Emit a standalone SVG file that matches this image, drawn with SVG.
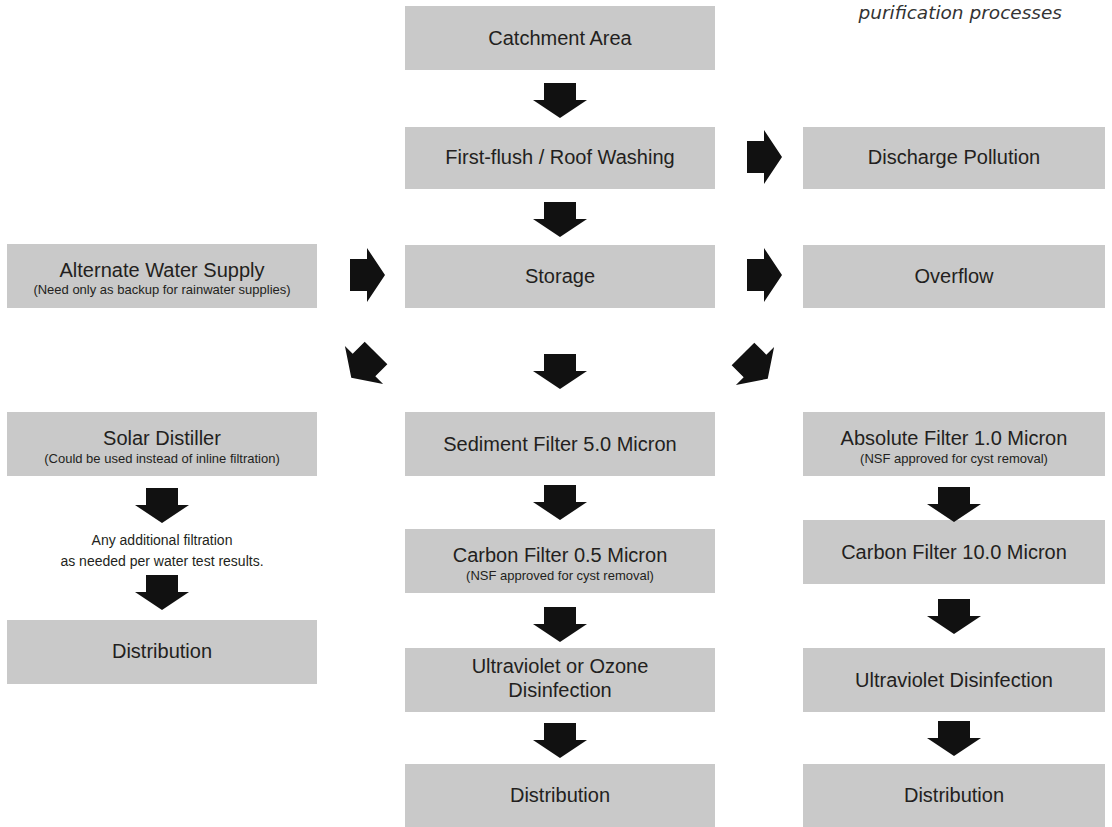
<svg xmlns="http://www.w3.org/2000/svg" xmlns:xlink="http://www.w3.org/1999/xlink" width="1112" height="827" viewBox="0 0 1112 827">
  <style>
    .box { fill: #c9c9c9; }
    .t { font-family: "Liberation Sans", Arial, sans-serif; font-size: 20px; fill: #231f20; text-anchor: middle; }
    .s { font-family: "Liberation Sans", Arial, sans-serif; font-size: 13px; fill: #231f20; text-anchor: middle; }
    .n { font-family: "Liberation Sans", Arial, sans-serif; font-size: 14px; fill: #231f20; text-anchor: middle; }
    .title { font-family: "DejaVu Sans", sans-serif; font-style: italic; font-size: 18.5px; fill: #333; text-anchor: end; }
    .arrow { fill: #111; }
  </style>
  <defs>
    <!-- block arrow pointing right; origin at the body/head joint -->
    <path id="arr" d="M -17 -16 H 0 V -27 L 18 0 L 0 27 V 16 H -17 Z"/>
  </defs>
  <rect width="1112" height="827" fill="#fff"/>

  <text class="title" x="1062" y="19">purification  processes</text>

  <!-- centre column -->
  <g id="catchment"><rect class="box" x="405" y="6" width="310" height="64"/><text class="t" x="560" y="45">Catchment Area</text></g>
  <g id="first-flush"><rect class="box" x="405" y="127" width="310" height="62"/><text class="t" x="560" y="164">First-flush / Roof Washing</text></g>
  <g id="storage"><rect class="box" x="405" y="245" width="310" height="63"/><text class="t" x="560" y="283">Storage</text></g>
  <g id="sediment"><rect class="box" x="405" y="412" width="310" height="64"/><text class="t" x="560" y="451">Sediment Filter 5.0 Micron</text></g>
  <g id="carbon-05"><rect class="box" x="405" y="529" width="310" height="64"/><text class="t" x="560" y="562">Carbon Filter 0.5 Micron</text><text class="s" x="560" y="580">(NSF approved for cyst removal)</text></g>
  <g id="uv-ozone"><rect class="box" x="405" y="648" width="310" height="64"/><text class="t" x="560" y="673">Ultraviolet or Ozone</text><text class="t" x="560" y="697">Disinfection</text></g>
  <g id="distribution-c"><rect class="box" x="405" y="764" width="310" height="63"/><text class="t" x="560" y="802">Distribution</text></g>

  <!-- right column -->
  <g id="discharge"><rect class="box" x="803" y="127" width="302" height="62"/><text class="t" x="954" y="164">Discharge Pollution</text></g>
  <g id="overflow"><rect class="box" x="803" y="245" width="302" height="63"/><text class="t" x="954" y="283">Overflow</text></g>
  <g id="absolute"><rect class="box" x="803" y="412" width="302" height="64"/><text class="t" x="954" y="445">Absolute Filter 1.0 Micron</text><text class="s" x="954" y="463">(NSF approved for cyst removal)</text></g>
  <g id="carbon-10"><rect class="box" x="803" y="520" width="302" height="64"/><text class="t" x="954" y="559">Carbon Filter 10.0 Micron</text></g>
  <g id="uv"><rect class="box" x="803" y="648" width="302" height="64"/><text class="t" x="954" y="687">Ultraviolet Disinfection</text></g>
  <g id="distribution-r"><rect class="box" x="803" y="764" width="302" height="63"/><text class="t" x="954" y="802">Distribution</text></g>

  <!-- left column -->
  <g id="alternate"><rect class="box" x="7" y="244" width="310" height="64"/><text class="t" x="162" y="277">Alternate Water Supply</text><text class="s" x="162" y="294">(Need only as backup for rainwater supplies)</text></g>
  <g id="solar"><rect class="box" x="7" y="412" width="310" height="64"/><text class="t" x="162" y="445">Solar Distiller</text><text class="s" x="162" y="463">(Could be used instead of inline filtration)</text></g>
  <g id="note"><text class="n" x="162" y="545">Any additional filtration</text><text class="n" x="162" y="566">as needed per water test results.</text></g>
  <g id="distribution-l"><rect class="box" x="7" y="620" width="310" height="64"/><text class="t" x="162" y="658">Distribution</text></g>

  <!-- connectors -->
  <g id="connectors" class="arrow">
    <use xlink:href="#arr" transform="translate(560 100) rotate(90)"/>
    <use xlink:href="#arr" transform="translate(560 219) rotate(90)"/>
    <use xlink:href="#arr" transform="translate(560 371) rotate(90)"/>
    <use xlink:href="#arr" transform="translate(560 502) rotate(90)"/>
    <use xlink:href="#arr" transform="translate(560 624) rotate(90)"/>
    <use xlink:href="#arr" transform="translate(560 740) rotate(90)"/>
    <use xlink:href="#arr" transform="translate(764 157)"/>
    <use xlink:href="#arr" transform="translate(764 275)"/>
    <use xlink:href="#arr" transform="translate(367 275)"/>
    <use xlink:href="#arr" transform="translate(364 365) rotate(135)"/>
    <use xlink:href="#arr" transform="translate(755 366) rotate(45)"/>
    <use xlink:href="#arr" transform="translate(954 504) rotate(90)"/>
    <use xlink:href="#arr" transform="translate(954 616) rotate(90)"/>
    <use xlink:href="#arr" transform="translate(954 738) rotate(90)"/>
    <use xlink:href="#arr" transform="translate(162 505) rotate(90)"/>
    <use xlink:href="#arr" transform="translate(162 592) rotate(90)"/>
  </g>
</svg>
